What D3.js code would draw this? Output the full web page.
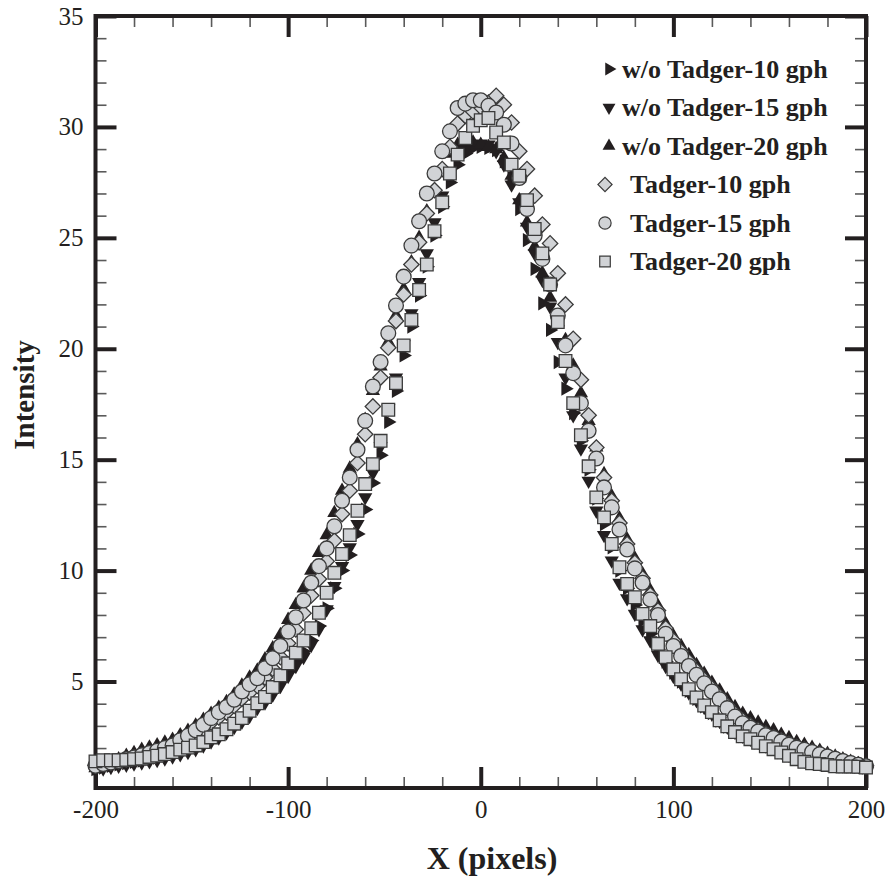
<!DOCTYPE html>
<html>
<head>
<meta charset="utf-8">
<script src="https://cdnjs.cloudflare.com/ajax/libs/d3/7.8.5/d3.min.js"></script>
<style>
  body { margin: 0; background: #fff; }
  svg { display: block; }
</style>
</head>
<body>
<div id="chart"></div>
<script>
// Intensity profiles across X (pixels)

var xPixels = [-200,-196,-192,-188,-184,-180,-176,-172,-168,-164,
  -160,-156,-152,-148,-144,-140,-136,-132,-128,-124,
  -120,-116,-112,-108,-104,-100,-96,-92,-88,-84,
  -80,-76,-72,-68,-64,-60,-56,-52,-48,-44,
  -40,-36,-32,-28,-24,-20,-16,-12,-8,-4,
  0,
  4,8,12,16,20,24,28,32,36,40,
  44,48,52,56,60,64,68,72,76,80,
  84,88,92,96,100,104,108,112,116,120,
  124,128,132,136,140,144,148,152,156,160,
  164,168,172,176,180,184,188,192,196,200];

var woTadger10 = [1.05,1.12,1.20,1.26,1.32,1.38,1.43,1.50,1.57,1.65,
  1.74,1.84,1.94,2.05,2.20,2.38,2.55,2.78,3.02,3.25,
  3.55,3.88,4.15,4.55,5.00,5.45,5.90,6.35,6.85,7.50,
  8.30,9.20,10.00,10.70,11.65,12.75,13.95,15.20,16.70,18.10,
  19.70,21.00,22.40,23.70,25.10,26.40,27.50,28.30,28.80,29.05,
  29.10,
  29.05,28.95,28.45,27.70,26.30,24.90,23.60,22.05,20.85,19.40,
  18.20,17.10,15.85,14.55,13.25,12.10,11.05,10.00,9.20,8.45,
  7.75,7.15,6.45,5.90,5.40,5.00,4.58,4.22,3.88,3.58,
  3.24,2.97,2.72,2.54,2.41,2.26,2.10,1.97,1.82,1.68,
  1.53,1.41,1.33,1.30,1.25,1.20,1.18,1.18,1.16,1.12];

var woTadger15 = [1.00,1.08,1.15,1.20,1.25,1.30,1.35,1.40,1.46,1.53,
  1.62,1.72,1.82,1.95,2.12,2.30,2.48,2.70,2.95,3.18,
  3.45,3.80,4.05,4.40,4.80,5.25,5.70,6.10,6.65,7.35,
  8.25,9.30,10.20,11.05,12.10,13.30,14.40,15.60,17.30,18.70,
  20.20,21.60,23.00,24.30,25.70,26.90,27.90,28.60,29.00,29.20,
  29.25,
  29.20,28.90,28.30,27.40,26.60,25.50,24.30,23.10,21.90,20.30,
  18.70,17.00,15.50,14.05,12.70,11.60,10.45,9.45,8.75,8.05,
  7.35,6.85,6.20,5.70,5.25,4.90,4.50,4.15,3.85,3.55,
  3.22,2.96,2.72,2.55,2.42,2.28,2.12,2.00,1.85,1.70,
  1.56,1.44,1.36,1.32,1.27,1.22,1.20,1.20,1.18,1.14];

var woTadger20 = [1.10,1.20,1.35,1.50,1.65,1.78,1.92,2.03,2.13,2.25,
  2.38,2.58,2.78,3.02,3.28,3.55,3.82,4.08,4.42,4.82,
  5.18,5.50,6.00,6.50,7.10,7.78,8.45,9.20,10.00,10.80,
  11.60,12.60,13.60,14.60,15.70,16.80,18.10,19.20,20.30,21.50,
  22.70,23.90,25.00,26.20,27.10,28.00,28.80,29.20,29.30,29.30,
  29.20,
  29.10,29.00,28.60,27.80,26.70,25.70,24.60,23.40,22.30,21.20,
  20.40,19.25,18.00,16.75,15.55,14.35,13.35,12.35,11.40,10.55,
  9.85,9.10,8.40,7.60,7.05,6.60,6.20,5.75,5.35,4.95,
  4.60,4.20,3.85,3.55,3.35,3.15,2.95,2.80,2.60,2.45,
  2.28,2.15,2.02,1.88,1.75,1.62,1.50,1.38,1.27,1.15];

var tadger10 = [1.22,1.28,1.33,1.40,1.48,1.56,1.65,1.74,1.84,1.95,
  2.07,2.25,2.43,2.65,2.88,3.15,3.38,3.60,3.90,4.22,
  4.50,4.80,5.18,5.58,6.10,6.72,7.35,8.08,8.88,9.62,
  10.42,11.35,12.55,13.60,14.85,16.15,17.40,18.70,20.05,21.25,
  22.45,23.80,24.80,26.10,27.15,28.10,29.10,30.15,30.50,30.70,
  30.90,
  31.10,31.40,31.00,30.20,28.90,28.10,26.90,25.60,24.75,23.40,
  22.00,20.45,18.60,17.00,15.55,14.20,13.15,12.15,11.20,10.35,
  9.65,8.90,8.20,7.40,6.85,6.35,5.90,5.48,5.08,4.70,
  4.32,3.92,3.55,3.25,3.02,2.82,2.65,2.50,2.35,2.20,
  2.06,1.95,1.85,1.75,1.64,1.54,1.44,1.35,1.27,1.20];

var tadger15 = [1.20,1.28,1.35,1.42,1.50,1.58,1.68,1.78,1.88,2.00,
  2.12,2.35,2.55,2.80,3.05,3.35,3.62,3.85,4.18,4.55,
  4.88,5.15,5.60,6.05,6.60,7.25,7.90,8.65,9.45,10.20,
  11.00,12.00,13.15,14.20,15.45,16.75,18.30,19.40,20.70,21.95,
  23.25,24.65,25.75,27.00,27.90,28.90,29.80,30.85,31.05,31.20,
  31.20,
  30.95,30.65,30.10,29.25,27.70,26.30,25.10,24.05,22.90,21.50,
  20.15,18.90,17.55,16.30,15.05,13.75,12.85,11.85,10.95,10.10,
  9.45,8.70,8.00,7.15,6.60,6.15,5.70,5.30,4.92,4.55,
  4.20,3.80,3.42,3.12,2.92,2.75,2.58,2.45,2.30,2.15,
  2.02,1.92,1.82,1.72,1.62,1.52,1.42,1.33,1.25,1.18];

var tadger20 = [1.40,1.45,1.45,1.45,1.47,1.50,1.53,1.60,1.66,1.73,
  1.82,1.93,2.02,2.12,2.27,2.48,2.62,2.85,3.10,3.35,
  3.68,4.02,4.30,4.75,5.28,5.82,6.30,6.85,7.40,8.10,
  9.00,9.90,10.75,11.60,12.70,13.90,14.80,15.85,17.25,18.45,
  20.15,21.30,22.65,23.80,25.30,26.60,27.90,28.75,29.50,30.05,
  30.30,
  30.40,29.75,29.30,28.30,27.80,26.70,25.40,24.30,22.90,21.20,
  19.45,17.55,16.10,14.70,13.30,12.40,11.20,10.15,9.40,8.80,
  8.05,7.50,6.70,6.10,5.55,5.10,4.65,4.28,3.92,3.62,
  3.25,2.98,2.72,2.53,2.40,2.24,2.08,1.95,1.80,1.65,
  1.50,1.38,1.31,1.28,1.24,1.18,1.17,1.17,1.16,1.12];

var seriesNames = ["w/o Tadger-10 gph", "w/o Tadger-15 gph", "w/o Tadger-20 gph",
  "Tadger-10 gph", "Tadger-15 gph", "Tadger-20 gph"];

var xMajorTicks = [-200, -100, 0, 100, 200];
var xMinorTicks = [-180, -160, -140, -120, -80, -60, -40, -20, 20, 40, 60, 80, 120, 140, 160, 180];
var yMajorTicks = [5, 10, 15, 20, 25, 30, 35];
var yMinorTicks = [1, 2, 3, 4, 6, 7, 8, 9, 11, 12, 13, 14, 16, 17, 18, 19,
  21, 22, 23, 24, 26, 27, 28, 29, 31, 32, 33, 34];

var svgWidth = 888;
var svgHeight = 876;
var plot = { left: 95.5, right: 866, top: 16, bottom: 788 };

var ink = "#231f20";
var grayFill = "#d1d3d6";
var grayStroke = "#3b3b3b";
var serif = "'Liberation Serif', 'Times New Roman', serif";

var svg = d3.select("#chart")
  .append("svg")
  .attr("width", svgWidth)
  .attr("height", svgHeight);

var xScale = d3.scaleLinear().domain([-200, 200]).range([plot.left, plot.right]);
var yScale = d3.scaleLinear().domain([0.2, 35]).range([plot.bottom, plot.top]);

// marker styles, in legend order
var tri = d3.symbolTriangle;
var styles = [
  { type: tri, rot: 90, size: 88, lsize: 72, fill: ink, stroke: "none" },
  { type: tri, rot: 180, size: 88, lsize: 72, fill: ink, stroke: "none" },
  { type: tri, rot: 0, size: 88, lsize: 72, fill: ink, stroke: "none" },
  { type: d3.symbolSquare, rot: 45, size: 118, lsize: 100, fill: grayFill, stroke: grayStroke },
  { type: d3.symbolCircle, rot: 0, size: 172, lsize: 118, fill: grayFill, stroke: grayStroke },
  { type: d3.symbolSquare, rot: 0, size: 160, lsize: 112, fill: grayFill, stroke: grayStroke }
];
var allSeries = [woTadger10, woTadger15, woTadger20, tadger10, tadger15, tadger20];

// axes: major and minor ticks on all four sides, pointing inward
function styleAxis(g, width, color) {
  g.select(".domain").remove();
  g.selectAll(".tick line").attr("stroke", color).attr("stroke-width", width);
  g.selectAll(".tick text")
    .attr("font-family", serif)
    .attr("font-size", "25px")
    .attr("fill", ink);
}

svg.append("g")
  .attr("transform", `translate(0, ${plot.bottom})`)
  .call(d3.axisBottom(xScale).tickValues(xMinorTicks).tickSize(-11).tickFormat(""))
  .call(styleAxis, 1.6, "#5a5a5a");
svg.append("g")
  .attr("transform", `translate(0, ${plot.bottom})`)
  .call(d3.axisBottom(xScale).tickValues(xMajorTicks).tickSize(-21).tickPadding(12)
    .tickFormat(function(d) { return String(d); }))
  .call(styleAxis, 4, ink);

svg.append("g")
  .attr("transform", `translate(0, ${plot.top})`)
  .call(d3.axisTop(xScale).tickValues(xMinorTicks).tickSize(-11).tickFormat(""))
  .call(styleAxis, 1.6, "#5a5a5a");
svg.append("g")
  .attr("transform", `translate(0, ${plot.top})`)
  .call(d3.axisTop(xScale).tickValues(xMajorTicks).tickSize(-21).tickFormat(""))
  .call(styleAxis, 4, ink);

svg.append("g")
  .attr("transform", `translate(${plot.left}, 0)`)
  .call(d3.axisLeft(yScale).tickValues(yMinorTicks).tickSize(-11).tickFormat(""))
  .call(styleAxis, 1.6, "#5a5a5a");
svg.append("g")
  .attr("transform", `translate(${plot.left}, 0)`)
  .call(d3.axisLeft(yScale).tickValues(yMajorTicks).tickSize(-21).tickPadding(12)
    .tickFormat(function(d) { return String(d); }))
  .call(styleAxis, 4, ink);

svg.append("g")
  .attr("transform", `translate(${plot.right}, 0)`)
  .call(d3.axisRight(yScale).tickValues(yMinorTicks).tickSize(-11).tickFormat(""))
  .call(styleAxis, 1.6, "#5a5a5a");
svg.append("g")
  .attr("transform", `translate(${plot.right}, 0)`)
  .call(d3.axisRight(yScale).tickValues(yMajorTicks).tickSize(-21).tickFormat(""))
  .call(styleAxis, 4, ink);

// frame
svg.append("rect")
  .attr("x", plot.left)
  .attr("y", plot.top)
  .attr("width", plot.right - plot.left)
  .attr("height", plot.bottom - plot.top)
  .attr("fill", "none")
  .attr("stroke", ink)
  .attr("stroke-width", 4);

// data points
allSeries.forEach(function(values, i) {
  var st = styles[i];
  var sym = d3.symbol().type(st.type).size(st.size);
  svg.append("g")
    .selectAll("path")
    .data(values.map(function(v, j) { return { x: xPixels[j], v: v }; }))
    .enter()
    .append("path")
    .attr("transform", function(d) {
      return `translate(${xScale(d.x)}, ${yScale(d.v)}) rotate(${st.rot})`;
    })
    .attr("d", sym)
    .attr("fill", st.fill)
    .attr("stroke", st.stroke)
    .attr("stroke-width", 1.3);
});

// legend
var legend = svg.append("g");
seriesNames.forEach(function(name, i) {
  var st = styles[i];
  var ly = 69 + i * 38.5;
  var black = i < 3;
  legend.append("path")
    .attr("transform", `translate(${black ? 609 : 605}, ${ly}) rotate(${st.rot})`)
    .attr("d", d3.symbol().type(st.type).size(st.lsize))
    .attr("fill", st.fill)
    .attr("stroke", st.stroke)
    .attr("stroke-width", 1.2);
  legend.append("text")
    .attr("x", black ? 622 : 630)
    .attr("y", ly + 8.5)
    .attr("font-family", serif)
    .attr("font-size", "26px")
    .attr("font-weight", "bold")
    .attr("fill", ink)
    .text(name);
});

// axis titles
svg.append("text")
  .attr("x", 492)
  .attr("y", 869)
  .attr("text-anchor", "middle")
  .attr("font-family", serif)
  .attr("font-size", "32px")
  .attr("font-weight", "bold")
  .attr("fill", ink)
  .text("X (pixels)");

svg.append("text")
  .attr("transform", "rotate(-90)")
  .attr("x", -395)
  .attr("y", 34)
  .attr("text-anchor", "middle")
  .attr("font-family", serif)
  .attr("font-size", "29px")
  .attr("font-weight", "bold")
  .attr("fill", ink)
  .text("Intensity");
</script>
</body>
</html>
